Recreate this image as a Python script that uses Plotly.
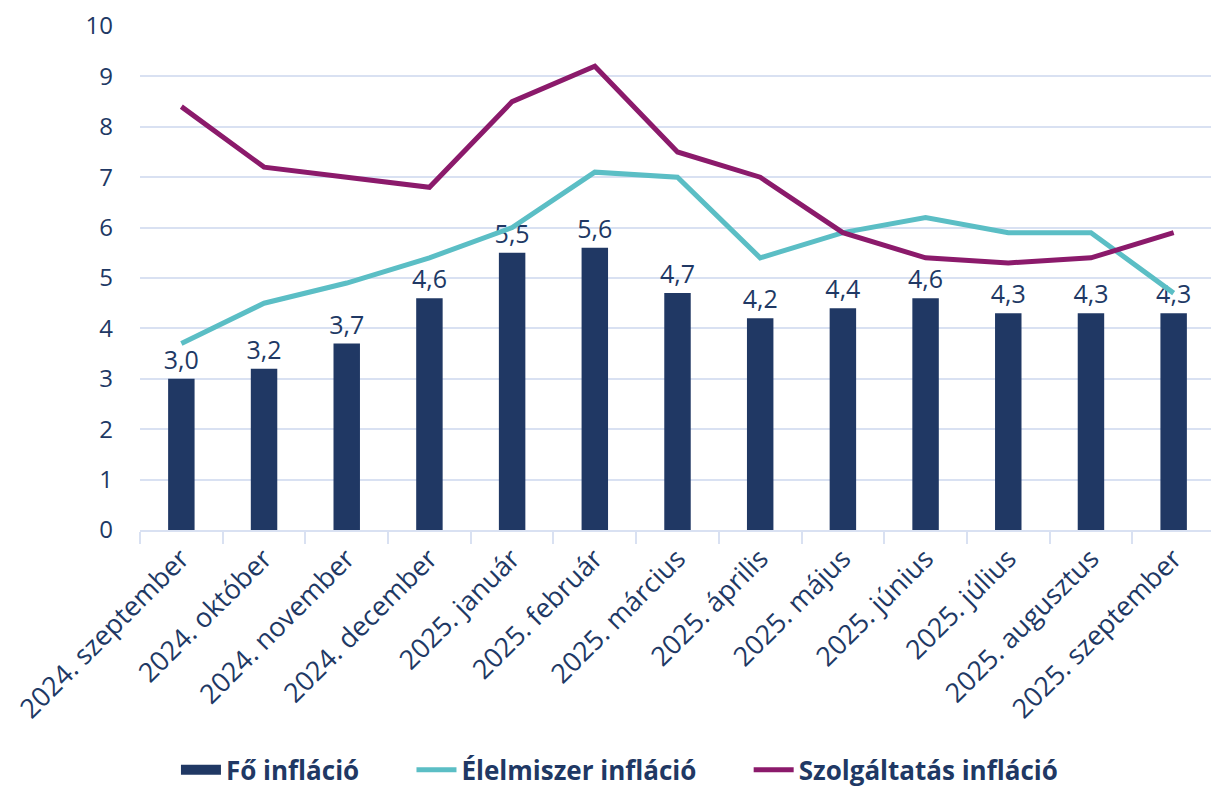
import plotly.graph_objects as go

categories = ["2024. szeptember", "2024. október", "2024. november", "2024. december",
              "2025. január", "2025. február", "2025. március", "2025. április",
              "2025. május", "2025. június", "2025. július", "2025. augusztus",
              "2025. szeptember"]
fo_inflacio = [3.0, 3.2, 3.7, 4.6, 5.5, 5.6, 4.7, 4.2, 4.4, 4.6, 4.3, 4.3, 4.3]
elelmiszer_inflacio = [3.7, 4.5, 4.9, 5.4, 6.0, 7.1, 7.0, 5.4, 5.9, 6.2, 5.9, 5.9, 4.7]
szolgaltatas_inflacio = [8.4, 7.2, 7.0, 6.8, 8.5, 9.2, 7.5, 7.0, 5.9, 5.4, 5.3, 5.4, 5.9]

navy = "#203864"
teal = "#5BBEC5"
purple = "#8B1A6B"
grid = "#D9E1F2"
font_family = "Open Sans, Noto Sans, sans-serif"
pad = "&nbsp;" * 7

fig = go.Figure()
fig.add_trace(go.Bar(
    x=categories, y=fo_inflacio, name="Fő infláció", showlegend=False,
    marker=dict(color=navy, line=dict(width=0)),
    width=0.32,
    texttemplate="%{y:.1f}", textposition="outside", constraintext="none",
    textfont=dict(size=25, color=navy, family=font_family),
    cliponaxis=False,
))
# legend entry for the bars (wide rectangle swatch)
fig.add_trace(go.Scatter(
    x=[None], y=[None], name="<b>Fő infláció</b>" + pad,
    mode="lines", line=dict(color=navy, width=17),
))
fig.add_trace(go.Scatter(
    x=categories, y=elelmiszer_inflacio, name="<b>Élelmiszer infláció</b>" + pad,
    mode="lines", line=dict(color=teal, width=5),
))
fig.add_trace(go.Scatter(
    x=categories, y=szolgaltatas_inflacio, name="<b>Szolgáltatás infláció</b>",
    mode="lines", line=dict(color=purple, width=5),
))

fig.update_layout(
    width=1219, height=798,
    margin=dict(l=132, r=12, t=18, b=276, autoexpand=False),
    plot_bgcolor="white", paper_bgcolor="white",
    separators=", ",
    font=dict(family=font_family, color=navy, size=24),
    showlegend=True,
    legend=dict(orientation="h", x=0.446, xanchor="center", y=-0.476, yanchor="middle",
                font=dict(size=26, color=navy, family=font_family),
                itemwidth=40, tracegroupgap=0),
    bargap=0.6,
)
fig.update_yaxes(range=[0, 10], dtick=1, showgrid=True, gridcolor=grid, gridwidth=2,
                 zeroline=False, showline=False, automargin=False,
                 ticklabeloverflow="allow",
                 tickfont=dict(size=24, color=navy), ticks="", ticklabelstandoff=26)
fig.update_xaxes(type="category", showline=True, linecolor=grid, linewidth=2,
                 ticks="outside", tickson="boundaries", ticklen=12, tickcolor=grid, tickwidth=2,
                 automargin=False,
                 tickangle=-45, tickfont=dict(size=27, color=navy), showgrid=False)

fig.write_html("out.html")
